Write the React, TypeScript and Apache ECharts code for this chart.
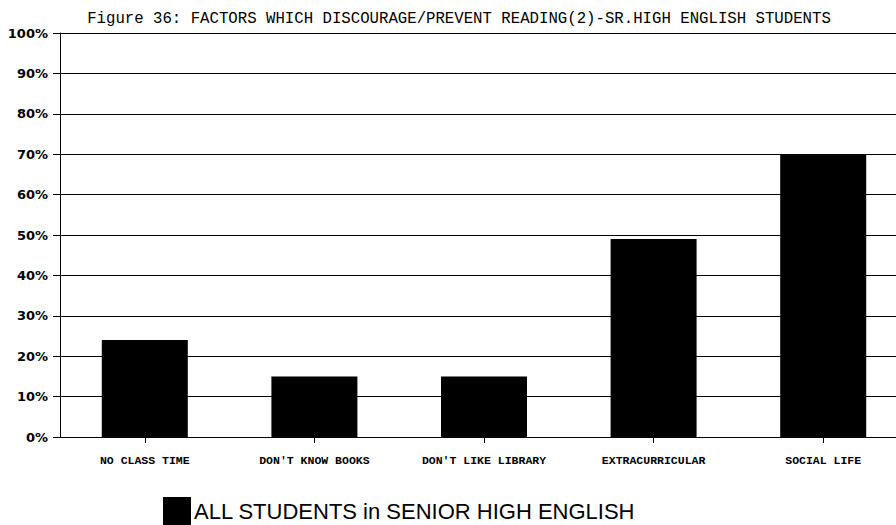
import React, { useEffect, useRef } from "react";
import * as echarts from "echarts";

const titleText = "Figure 36: FACTORS WHICH DISCOURAGE/PREVENT READING(2)-SR.HIGH ENGLISH STUDENTS";
const categories = ["NO CLASS TIME", "DON'T KNOW BOOKS", "DON'T LIKE LIBRARY", "EXTRACURRICULAR", "SOCIAL LIFE"];
const seriesName = "ALL STUDENTS in SENIOR HIGH ENGLISH";
const values = [24, 15, 15, 49, 70];

export default function App() {
  const ref = useRef<HTMLDivElement>(null);
  useEffect(() => {
    if (!ref.current) return;
    const chart = echarts.init(ref.current, null, { renderer: "svg" });
    chart.setOption({
      animation: false,
      backgroundColor: "#ffffff",
      title: {
        text: titleText,
        left: 454,
        textAlign: "center",
        top: 6,
        textStyle: {
          fontFamily: "Liberation Mono",
          fontSize: 15.7,
          fontWeight: "normal",
          color: "#000",
        },
      },
      legend: {
        data: [seriesName],
        left: 158,
        top: 492,
        itemWidth: 28,
        itemHeight: 28,
        itemGap: 10,
        textStyle: {
          fontFamily: "Liberation Sans",
          fontSize: 22,
          color: "#000",
          padding: [0, 0, 0, -2],
        },
        icon: "rect",
      },
      grid: { left: 60, right: 0, top: 33, bottom: 88 },
      xAxis: {
        type: "category",
        data: categories,
        boundaryGap: true,
        axisLine: { lineStyle: { color: "#000", width: 1 } },
        axisTick: { show: true, alignWithLabel: true, length: 6, lineStyle: { color: "#000" } },
        axisLabel: {
          interval: 0,
          margin: 17,
          fontFamily: "Liberation Mono",
          fontWeight: "bold",
          fontSize: 11.5,
          color: "#000",
        },
        splitLine: { show: false },
      },
      yAxis: {
        type: "value",
        min: 0,
        max: 100,
        interval: 10,
        axisLine: { show: true, lineStyle: { color: "#000", width: 1 } },
        axisTick: { show: true, length: 7, lineStyle: { color: "#000" } },
        axisLabel: {
          formatter: "{value}%",
          margin: 12,
          fontFamily: "DejaVu Sans",
          fontWeight: "bold",
          fontSize: 13,
          color: "#000",
        },
        splitLine: { show: true, lineStyle: { color: "#000", width: 1 } },
      },
      series: [
        {
          name: seriesName,
          type: "bar",
          data: values,
          barWidth: 86,
          itemStyle: { color: "#000" },
        },
      ],
    });
    return () => chart.dispose();
  }, []);
  return (
    <div style={{ width: 896, height: 525, position: "absolute", left: 0, top: 0, overflow: "hidden", background: "#fff" }}>
      <div ref={ref} style={{ width: 908, height: 525, position: "absolute", left: 0, top: 0 }} />
    </div>
  );
}
